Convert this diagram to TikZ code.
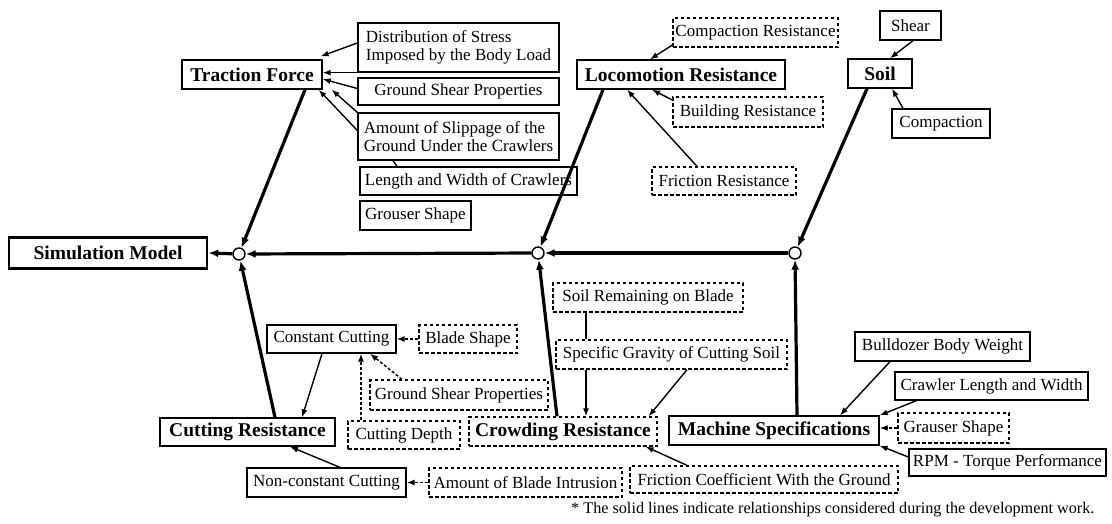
\documentclass[tikz,border=0pt]{standalone}
\usepackage{fontspec}
\setmainfont{Liberation Serif}
\usetikzlibrary{arrows.meta,calc}
\tikzset{
  box/.style={draw, line width=1.3pt, inner sep=0pt, align=center,
    font=\fontsize{17}{18.5}\selectfont},
  dbox/.style={box, dash pattern=on 3.5pt off 2.5pt},
  bold/.style={font=\fontsize{19.5}{22}\selectfont\bfseries},
  junc/.style={circle, draw, fill=white, line width=1.4pt, minimum size=12pt, inner sep=0pt},
  thin/.style={line width=1.4pt, -{Latex[length=8pt,width=6pt]}},
  dthin/.style={thin, dash pattern=on 3pt off 2pt},
  thick/.style={line width=3.2pt, -{Latex[length=10pt,width=8pt]}},
}
\begin{document}
\begin{tikzpicture}[x=1pt,y=-1pt]
\useasboundingbox (0,0) rectangle (1112,523);
% ---- top left: traction force
\node[box,bold,minimum width=140pt,minimum height=29pt] (tf) at (252,74.5) {Traction Force};
\node[box,align=left,minimum width=201pt,minimum height=49pt] (dist) at (458.5,47.5) {Distribution of Stress\\Imposed by the Body Load};
\node[box,minimum width=201pt,minimum height=27pt] (gsp) at (458.5,91.5) {Ground Shear Properties};
\node[box,align=left,minimum width=201pt,minimum height=47pt] (slip) at (458.5,136.5) {Amount of Slippage of the\\Ground Under the Crawlers};
\node[box,minimum width=217pt,minimum height=28pt] (lwc) at (468.5,181) {Length and Width of Crawlers};
\node[box,minimum width=111pt,minimum height=29pt] (grs) at (415.5,215.5) {Grouser Shape};
% ---- top middle: locomotion resistance
\node[box,bold,minimum width=208pt,minimum height=29pt] (lr) at (681,74.5) {Locomotion Resistance};
\node[dbox,minimum width=165pt,minimum height=29pt] (cres) at (755.5,32.5) {Compaction Resistance};
\node[dbox,minimum width=150pt,minimum height=30pt] (bres) at (748,112) {Building Resistance};
\node[dbox,minimum width=144pt,minimum height=28pt] (fres) at (724,181) {Friction Resistance};
% ---- top right: soil
\node[box,minimum width=61pt,minimum height=29pt] (shear) at (910.5,25.5) {Shear};
\node[box,bold,minimum width=64pt,minimum height=29pt] (soil) at (880,73.5) {Soil};
\node[box,minimum width=98pt,minimum height=29pt] (comp) at (941,123.5) {Compaction};
% ---- spine
\node[box,bold,line width=2.6pt,minimum width=198pt,minimum height=31pt] (sim) at (108,253) {Simulation Model};
\node[junc] (j1) at (239,254) {};
\node[junc] (j2) at (538,253) {};
\node[junc] (j3) at (795,253) {};
% ---- bottom left: cutting resistance
\node[box,bold,minimum width=175pt,minimum height=28pt] (cutr) at (247.5,432) {Cutting Resistance};
\node[box,minimum width=129pt,minimum height=28pt] (cc) at (331.5,339) {Constant Cutting};
\node[dbox,minimum width=98pt,minimum height=28pt] (bs) at (468,339) {Blade Shape};
\node[dbox,minimum width=178pt,minimum height=30pt] (gsp2) at (459,395) {Ground Shear Properties};
\node[dbox,minimum width=112pt,minimum height=28pt] (cd) at (404,435) {Cutting Depth};
\node[box,minimum width=159pt,minimum height=29pt] (ncc) at (326.5,482.5) {Non-constant Cutting};
\node[dbox,minimum width=193pt,minimum height=29pt] (abi) at (525.5,482.5) {Amount of Blade Intrusion};
% ---- bottom middle: crowding resistance
\node[dbox,bold,minimum width=188pt,minimum height=29pt] (crow) at (563,431.5) {Crowding Resistance};
\node[dbox,minimum width=190pt,minimum height=29pt] (srb) at (648,297.5) {Soil Remaining on Blade};
\node[dbox,minimum width=231pt,minimum height=29pt] (sgc) at (671.5,354.5) {Specific Gravity of Cutting Soil};
\node[dbox,minimum width=268pt,minimum height=27pt] (fcg) at (764,479.5) {Friction Coefficient With the Ground};
% ---- bottom right: machine specifications
\node[box,bold,minimum width=210pt,minimum height=29pt] (ms) at (774,430.5) {Machine Specifications};
\node[box,minimum width=175pt,minimum height=29pt] (bbw) at (942.5,346.5) {Bulldozer Body Weight};
\node[box,minimum width=193pt,minimum height=28pt] (clw) at (991.5,386) {Crawler Length and Width};
\node[dbox,minimum width=111pt,minimum height=30pt] (gra) at (953.5,428) {Grauser Shape};
\node[box,minimum width=197pt,minimum height=27pt] (rpm) at (1007.5,462.5) {RPM - Torque Performance};
% ---- footnote
\node[anchor=west,inner sep=0pt,font=\fontsize{16.2}{18}\selectfont] (note) at (571,510) {* The solid lines indicate relationships considered during the development work.};

% ---- thin arrows to traction force
\draw[thin] ([yshift=4.5pt]dist.west) -- ([xshift=-2pt,yshift=3pt]tf.north east);
\draw[thin] (dist.south west) -- (dist.south west -| tf.east);
\draw[thin] ([yshift=3pt]gsp.west) -- ([yshift=-4.5pt]tf.east);
\draw[thin] (slip.north west) -- ([xshift=9pt]tf.south east);
\draw[thin] ([yshift=6pt]slip.west) -- ([xshift=-4pt]tf.south east);
\draw[line width=1.3pt] ([xshift=-65.5pt]slip.south) -- ([xshift=-71.5pt]lwc.north);
% ---- to locomotion resistance
\draw[thin] ([yshift=-12.5pt]cres.west) -- ([xshift=-31pt]lr.north);
\draw[thin] ([yshift=12pt]bres.west) -- ([xshift=-29pt]lr.south);
\draw[thin] ([xshift=-27pt]fres.north) -- ([xshift=-54pt]lr.south);
% ---- to soil
\draw[thin] ([xshift=2.5pt]shear.south) -- ([xshift=10pt]soil.north);
\draw[thin] ([xshift=-38pt]comp.north) -- ([xshift=12pt]soil.south);
% ---- spine
\draw[thick] ([xshift=53pt]tf.south) -- (j1);
\draw[thick] ([xshift=-78pt]lr.south) -- (j2);
\draw[thick] ([xshift=-13pt]soil.south) -- (j3);
\draw[thick] ([xshift=27.5pt]cutr.north) -- (j1);
\draw[thick] ([xshift=-6pt]crow.north) -- (j2);
\draw[thick] ([xshift=23pt]ms.north) -- (j3);
\draw[thick] (j3) -- (j2);
\draw[thick] (j2) -- (j1);
\draw[thick] (j1) -- (sim.east);
% ---- cutting resistance
\draw[thin] ([xshift=-9.5pt]cc.south) -- ([xshift=54.5pt]cutr.north);
\draw[dthin] (bs.west) -- (cc.east);
\draw[dthin] ([xshift=-57pt]gsp2.north) -- ([xshift=38.5pt]cc.south);
\draw[dthin] ([xshift=-43pt]cd.north) -- ([xshift=29.5pt]cc.south);
\draw[thin] ([xshift=13.5pt]ncc.north) -- ([xshift=42.5pt]cutr.south);
\draw[dthin] (abi.west) -- (ncc.east);
% ---- crowding resistance
\draw[line width=1.3pt] ([xshift=-62pt]srb.south) -- ([xshift=-85.5pt]sgc.north);
\draw[thin] ([xshift=-85.5pt]sgc.south) -- ([xshift=23pt]crow.north);
\draw[thin] ([xshift=15.5pt]sgc.south) -- ([xshift=-9pt]crow.north east);
\draw[thin] ([xshift=-77pt]fcg.north) -- ([xshift=-12pt]crow.south east);
% ---- machine specifications
\draw[thin] ([xshift=-52.5pt]bbw.south) -- ([xshift=66pt]ms.north);
\draw[thin] ([xshift=22pt]clw.south west) -- (ms.north east);
\draw[dthin] (gra.west) -- (gra.west -| ms.east);
\draw[thin] ([yshift=5.5pt]rpm.west) -- (ms.south east);
\end{tikzpicture}
\end{document}
